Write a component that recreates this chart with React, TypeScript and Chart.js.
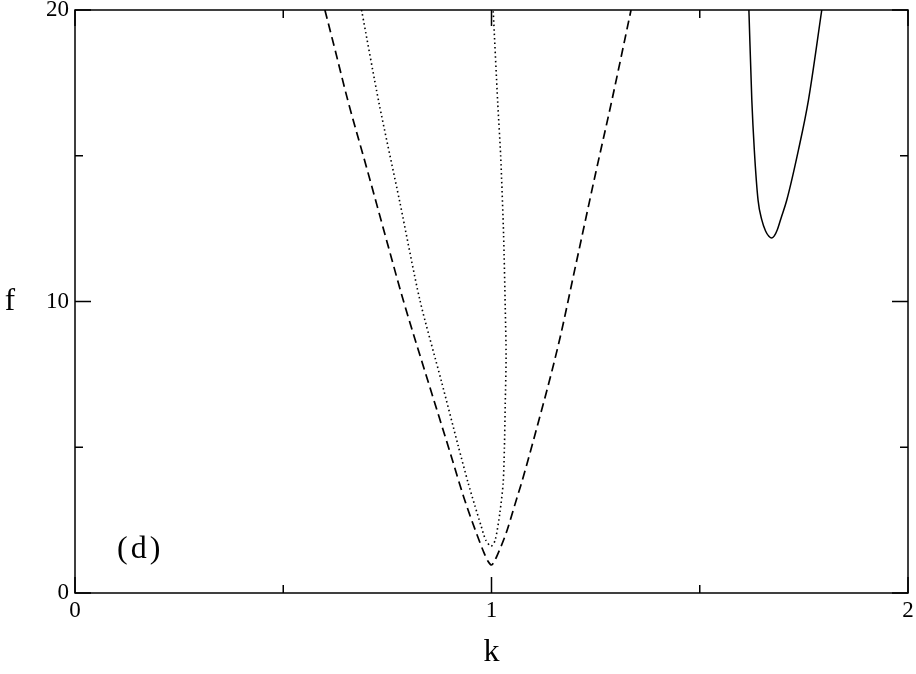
import { useEffect, useRef } from "react";
import { Chart, registerables } from "chart.js";

Chart.register(...registerables);

// Axis ticks
const xMajorTicks = [0, 1, 2];
const xMinorTicks = [0.5, 1.5];
const yMajorTicks = [0, 10, 20];
const yMinorTicks = [5, 15];

// Dashed curve
const dashedK = [0.600, 0.625, 0.655, 0.700, 0.750, 0.788, 0.850, 0.900, 0.934, 0.960, 0.980, 0.992, 1.000, 1.008, 1.020, 1.035, 1.061, 1.072, 1.100, 1.162, 1.200, 1.250, 1.289, 1.335];
const dashedF = [20.0, 18.6, 16.9, 14.6, 12.0, 10.05, 7.15, 4.85, 3.26, 2.2, 1.45, 1.08, 0.96, 1.12, 1.5, 2.05, 3.26, 3.77, 5.2, 8.6, 11.1, 14.4, 16.9, 20.0];

// Dotted curve
const dottedK = [0.688, 0.730, 0.780, 0.828, 0.880, 0.920, 0.944, 0.960, 0.975, 0.986, 0.999, 1.009, 1.020, 1.028, 1.031, 1.033, 1.035, 1.033, 1.029, 1.022, 1.015, 1.004];
const dottedF = [20.0, 16.8, 13.4, 10.05, 7.25, 5.05, 3.77, 3.0, 2.3, 1.82, 1.6, 1.82, 2.74, 3.77, 5.0, 6.5, 8.1, 9.8, 12.3, 15.0, 16.8, 20.0];

// Solid curve
const solidK = [1.618, 1.625, 1.631, 1.640, 1.649, 1.658, 1.666, 1.673, 1.679, 1.686, 1.695, 1.709, 1.737, 1.761, 1.793];
const solidF = [20.0, 16.91, 15.2, 13.48, 12.8, 12.42, 12.24, 12.18, 12.25, 12.45, 12.85, 13.48, 15.2, 16.91, 20.0];

const panelLabel = "(d)";
const xTitle = "k";
const yTitle = "f";

const SERIF = '"Liberation Serif", "Times New Roman", serif';

export default function App() {
  const ref = useRef<HTMLCanvasElement>(null);

  useEffect(() => {
    const canvas = ref.current;
    if (!canvas) return;
    const toPts = (ks: number[], fs: number[]) => ks.map((k, i) => ({ x: k, y: fs[i] }));

    const framePlugin = {
      id: "frameTicks",
      afterDatasetsDraw(chart: any) {
        const { ctx, chartArea: a, scales } = chart;
        const xs = scales.x;
        const ys = scales.y;
        ctx.save();
        ctx.strokeStyle = "#000";
        ctx.lineWidth = 1.5;
        ctx.setLineDash([]);
        ctx.strokeRect(a.left, a.top, a.right - a.left, a.bottom - a.top);
        ctx.beginPath();
        const xt = (vals: number[], len: number) => {
          vals.forEach((v) => {
            const px = xs.getPixelForValue(v);
            ctx.moveTo(px, a.bottom);
            ctx.lineTo(px, a.bottom - len);
            ctx.moveTo(px, a.top);
            ctx.lineTo(px, a.top + len);
          });
        };
        const yt = (vals: number[], len: number) => {
          vals.forEach((v) => {
            const py = ys.getPixelForValue(v);
            ctx.moveTo(a.left, py);
            ctx.lineTo(a.left + len, py);
            ctx.moveTo(a.right, py);
            ctx.lineTo(a.right - len, py);
          });
        };
        xt(xMajorTicks, 16);
        xt(xMinorTicks, 8);
        yt(yMajorTicks, 16);
        yt(yMinorTicks, 8);
        ctx.stroke();

        ctx.fillStyle = "#000";
        ctx.font = `32px ${SERIF}`;
        ctx.textAlign = "left";
        ctx.textBaseline = "alphabetic";
        try { (ctx as any).letterSpacing = "3px"; } catch (e) {}
        ctx.fillText(panelLabel, xs.getPixelForValue(0.101), ys.getPixelForValue(1.2));
        try { (ctx as any).letterSpacing = "0px"; } catch (e) {}

        ctx.font = `31px ${SERIF}`;
        ctx.textAlign = "center";
        ctx.textBaseline = "middle";
        ctx.fillText(yTitle, 10, (a.top + a.bottom) / 2);
        ctx.restore();
      },
    };

    const chart = new Chart(canvas, {
      type: "scatter",
      data: {
        datasets: [
          {
            data: toPts(dashedK, dashedF),
            showLine: true,
            borderColor: "#000",
            borderWidth: 1.7,
            borderDash: [9, 5],
            pointRadius: 0,
            cubicInterpolationMode: "monotone",
            fill: false,
          },
          {
            data: toPts(dottedK, dottedF),
            showLine: true,
            borderColor: "#000",
            borderWidth: 1.6,
            borderDash: [1.5, 3],
            pointRadius: 0,
            tension: 0.25,
            fill: false,
          },
          {
            data: toPts(solidK, solidF),
            showLine: true,
            borderColor: "#000",
            borderWidth: 1.5,
            pointRadius: 0,
            cubicInterpolationMode: "monotone",
            fill: false,
          },
        ],
      },
      options: {
        responsive: false,
        animation: false,
        devicePixelRatio: 1,
        layout: { padding: { top: 10, right: 8, left: 0, bottom: 0 } },
        plugins: { legend: { display: false }, tooltip: { enabled: false } },
        scales: {
          x: {
            type: "linear",
            min: 0,
            max: 2,
            afterBuildTicks: (s: any) => {
              s.ticks = xMajorTicks.map((v) => ({ value: v }));
            },
            afterFit: (s: any) => {
              s.height = 81;
              s.paddingLeft = 0;
              s.paddingRight = 0;
            },
            ticks: {
              color: "#000",
              padding: 4,
              maxRotation: 0,
              font: { family: SERIF, size: 23 },
              callback: (v: any) => String(v),
            },
            grid: { display: false, drawTicks: false },
            border: { display: false },
            title: {
              display: true,
              text: xTitle,
              color: "#000",
              font: { family: SERIF, size: 32 },
              padding: { top: 0, bottom: 2 },
            },
          },
          y: {
            type: "linear",
            min: 0,
            max: 20,
            afterBuildTicks: (s: any) => {
              s.ticks = yMajorTicks.map((v) => ({ value: v }));
            },
            afterFit: (s: any) => {
              s.width = 75;
              s.paddingTop = 0;
              s.paddingBottom = 0;
            },
            ticks: {
              color: "#000",
              padding: 6,
              font: { family: SERIF, size: 23 },
              callback: (v: any) => String(v),
            },
            grid: { display: false, drawTicks: false },
            border: { display: false },
            title: { display: false },
          },
        },
      },
      plugins: [framePlugin],
    } as any);

    return () => chart.destroy();
  }, []);

  return (
    <div style={{ position: "absolute", left: 0, top: 0, width: 916, height: 674 }}>
      <canvas ref={ref} width={916} height={674} style={{ display: "block" }} />
    </div>
  );
}
